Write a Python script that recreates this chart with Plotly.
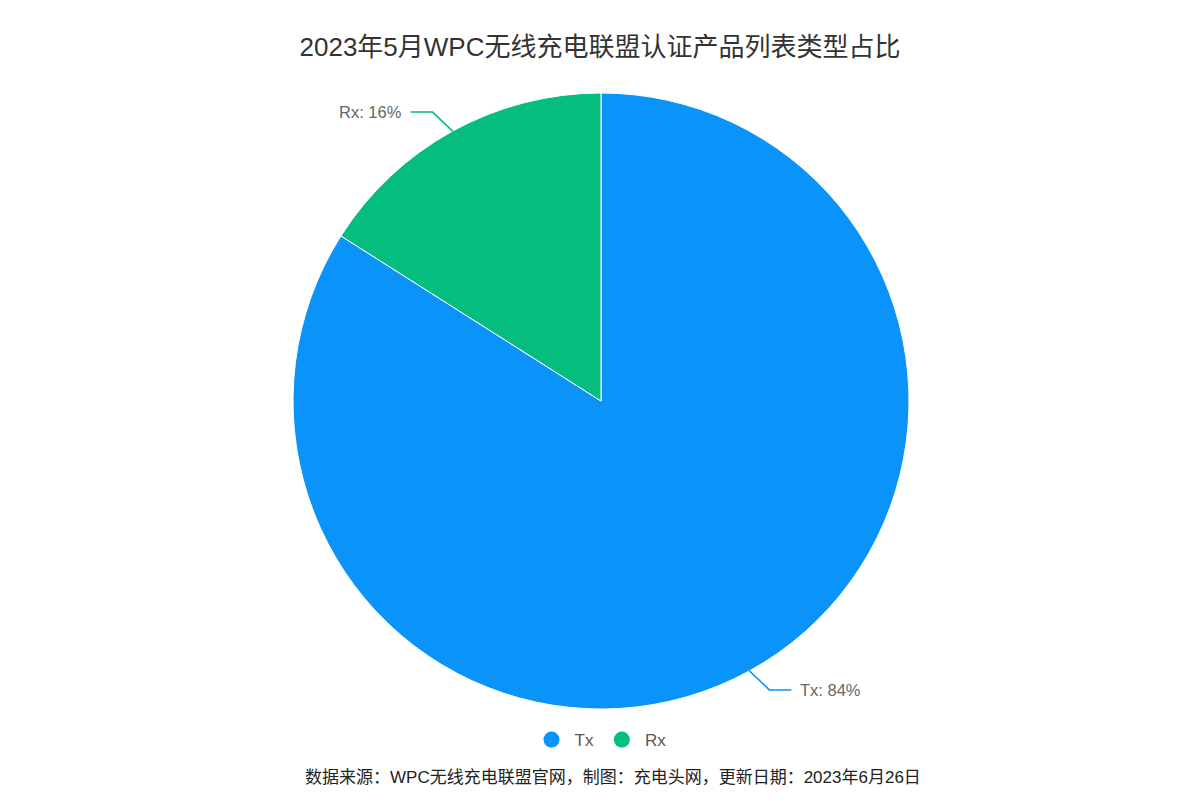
import math
import plotly.graph_objects as go

categories = ["Tx", "Rx"]
values = [84, 16]
colors = ["#0A93F8", "#04BD7E"]

W, H = 1200, 801
cx, cy, R = 601, 401, 308

def px(x):
    return x / W

def py(y):
    return 1 - y / H

FONT = "Liberation Sans, Arial, Noto Sans CJK SC"

fig = go.Figure()
fig.add_trace(go.Pie(
    labels=categories, values=values, sort=False, direction="clockwise", rotation=0,
    marker=dict(colors=colors, line=dict(color="white", width=1)),
    textinfo="none", hoverinfo="label+percent", showlegend=False,
    domain=dict(x=[px(cx - R), px(cx + R)], y=[py(cy + R), py(cy - R)]),
))

# legend with circle markers
for c, col in zip(categories, colors):
    fig.add_trace(go.Scatter(x=[None], y=[None], mode="markers", name=c,
                             marker=dict(symbol="circle", size=21, color=col)))

shapes, annotations = [], []
total = sum(values)
start = 0.0
for c, v, col in zip(categories, values, colors):
    span = 360.0 * v / total
    mid = math.radians(start + span / 2)
    start += span
    sx, sy = math.sin(mid), -math.cos(mid)
    side = 1 if sx > 0 else -1
    vside = 1 if sy > 0 else -1
    ex, ey = cx + R * sx, cy + R * sy
    kx, ky = ex + side * 20, ey + vside * 19
    hx = kx + side * 22
    shapes.append(dict(type="path", xref="paper", yref="paper",
                       path=f"M {px(ex)},{py(ey)} L {px(kx)},{py(ky)} L {px(hx)},{py(ky)}",
                       line=dict(color=col, width=1.5)))
    annotations.append(dict(x=px(hx + side * 7), y=py(ky), xref="paper", yref="paper",
                            text=f"{c}: {round(100 * v / total)}%", showarrow=False,
                            xanchor="left" if side > 0 else "right", yanchor="middle",
                            font=dict(size=16.5, color="#666", family=FONT)))

annotations.append(dict(x=px(613), y=py(777), xref="paper", yref="paper",
                        text="数据来源：WPC无线充电联盟官网，制图：充电头网，更新日期：2023年6月26日",
                        showarrow=False, xanchor="center", yanchor="middle",
                        font=dict(size=17, color="#222", family=FONT)))

fig.update_layout(
    width=W, height=H,
    margin=dict(l=0, r=0, t=0, b=0),
    paper_bgcolor="white", plot_bgcolor="white",
    title=dict(text="2023年5月WPC无线充电联盟认证产品列表类型占比", x=0.5, xanchor="center",
               y=py(47), yanchor="middle", font=dict(size=26, color="#333", family=FONT)),
    xaxis=dict(visible=False), yaxis=dict(visible=False),
    legend=dict(orientation="h", x=0.5, xanchor="center", y=py(740), yanchor="middle",
                font=dict(size=17, color="#555", family=FONT), itemwidth=36),
    shapes=shapes, annotations=annotations,
)

fig.write_html("out.html")
